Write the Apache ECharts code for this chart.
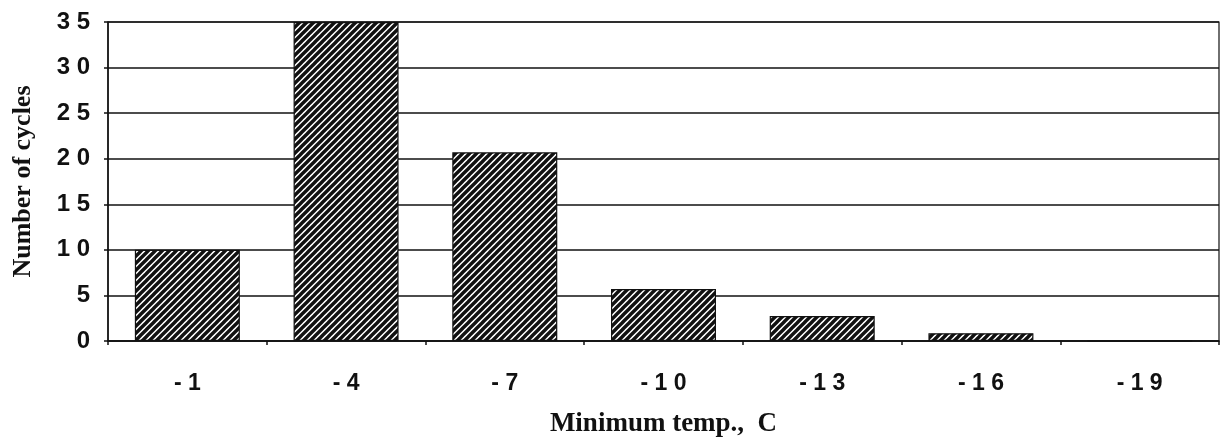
<!DOCTYPE html>
<html>
<head>
<meta charset="utf-8">
<script src="https://cdn.jsdelivr.net/npm/echarts@6/dist/echarts.min.js"></script>
<style>
html,body{margin:0;padding:0;background:#fff;}
#chart{width:1220px;height:444px;}
</style>
</head>
<body>
<div id="chart"></div>
<script>
const categories = ["-1", "-4", "-7", "-10", "-13", "-16", "-19"];
const cycles = [10, 35, 20.7, 5.7, 2.75, 0.85, 0];
const yTicks = { min: 0, max: 35, interval: 5 };
const xTitle = "Minimum temp.,  C";
const yTitle = "Number of cycles";

function spaced(s) { return String(s).split("").join(" "); }

function hatch() {
  const c = document.createElement("canvas");
  const n = 7;
  c.width = n; c.height = n;
  const g = c.getContext("2d");
  g.fillStyle = "#ffffff";
  g.fillRect(0, 0, n, n);
  g.strokeStyle = "#111111";
  g.lineWidth = 3.4;
  g.beginPath();
  for (let k = -1; k <= 1; k++) {
    g.moveTo(k * n - 1, n + 1);
    g.lineTo(k * n + n + 1, -1);
  }
  g.stroke();
  return c;
}

const chart = echarts.init(document.getElementById("chart"), null, { renderer: "canvas" });
chart.setOption({
  backgroundColor: "#ffffff",
  animation: false,
  grid: { left: 108, right: 1, top: 22, bottom: 103, outerBoundsMode: "none", containLabel: false, show: true, borderColor: "#111", borderWidth: 1.2, backgroundColor: "transparent" },
  xAxis: {
    type: "category",
    data: categories,
    name: xTitle,
    nameLocation: "middle",
    nameGap: 70,
    nameTextStyle: { fontFamily: "Liberation Serif", fontWeight: "bold", fontSize: 27, color: "#111" },
    axisLine: { show: true, lineStyle: { color: "#111", width: 1.5 } },
    axisTick: { show: true, length: 4, alignWithLabel: false, lineStyle: { color: "#111", width: 1.5 } },
    axisLabel: { margin: 31, fontFamily: "Liberation Sans", fontWeight: "bold", fontSize: 23, color: "#111", formatter: v => spaced(v) },
    splitLine: { show: false }
  },
  yAxis: {
    type: "value",
    min: yTicks.min, max: yTicks.max, interval: yTicks.interval,
    name: yTitle,
    nameLocation: "middle",
    nameGap: 72,
    nameTextStyle: { fontFamily: "Liberation Serif", fontWeight: "bold", fontSize: 26, color: "#111" },
    axisLine: { show: true, lineStyle: { color: "#111", width: 1.5 } },
    axisTick: { show: true, length: 4, lineStyle: { color: "#111", width: 1.5 } },
    axisLabel: { margin: 18, fontFamily: "Liberation Sans", fontWeight: "bold", fontSize: 24, color: "#111", formatter: v => spaced(v) },
    splitLine: { show: true, lineStyle: { color: "#111", width: 1.5 } }
  },
  series: [{
    type: "bar",
    data: cycles,
    barWidth: 105,
    itemStyle: {
      color: { image: hatch(), repeat: "repeat" },
      borderColor: "#111",
      borderWidth: 1.2
    }
  }]
});
</script>
</body>
</html>
